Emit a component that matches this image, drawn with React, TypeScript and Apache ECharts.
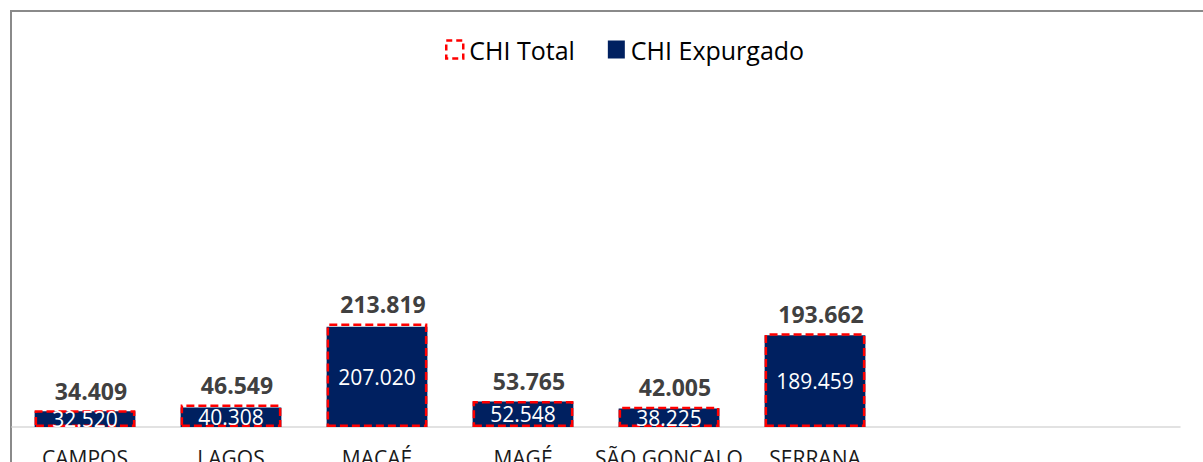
import React, { useEffect, useRef } from "react";
import * as echarts from "echarts";

const categories = ["CAMPOS", "LAGOS", "MACAÉ", "MAGÉ", "SÃO GONÇALO", "SERRANA", "", ""];
const chiTotal = [34409, 46549, 213819, 53765, 42005, 193662];
const chiExpurgado = [32520, 40308, 207020, 52548, 38225, 189459];

const fmt = (v: number) => String(Math.round(v)).replace(/\B(?=(\d{3})+(?!\d))/g, ".");

const FONT = "'Open Sans', 'Noto Sans', sans-serif";

export default function App() {
  const ref = useRef<HTMLDivElement>(null);
  useEffect(() => {
    if (!ref.current) return;
    const chart = echarts.init(ref.current, null, { renderer: "svg" });
    chart.setOption({
      animation: false,
      textStyle: { fontFamily: FONT },
      graphic: [
        {
          type: "rect",
          shape: { x: 11, y: 11, width: 1300, height: 600 },
          style: { fill: "none", stroke: "#8a8a8a", lineWidth: 2 },
          silent: true,
        },
      ],
      legend: {
        left: 440,
        top: 32,
        itemWidth: 17,
        itemHeight: 18,
        itemGap: 33,
        textStyle: { fontSize: 25, color: "#000", fontFamily: FONT, padding: [0, 0, 0, 1] },
        data: [
          {
            name: "CHI Total",
            icon: "rect",
            itemStyle: { color: "rgba(0,0,0,0)", borderColor: "#ff0000", borderWidth: 2.5, borderType: [6, 4] },
          },
          { name: "CHI Expurgado", icon: "rect", itemStyle: { color: "#002060" } },
        ],
      },
      grid: { left: 12, right: 23, top: 40, bottom: 35, containLabel: false, outerBoundsMode: "none" },
      xAxis: {
        type: "category",
        data: categories,
        axisLine: { show: true, lineStyle: { color: "#d9d9d9", width: 1.5 } },
        axisTick: { show: false },
        axisLabel: { fontSize: 21, color: "#1a1a1a", margin: 20, interval: 0, fontFamily: FONT },
      },
      yAxis: {
        type: "value",
        min: 0,
        max: 800000,
        show: false,
        splitLine: { show: false },
      },
      series: [
        {
          name: "CHI Expurgado",
          type: "bar",
          data: chiExpurgado,
          barWidth: "69%",
          barGap: "-100%",
          itemStyle: { color: "#002060" },
          label: {
            show: true,
            position: "inside",
            color: "#ffffff",
            fontSize: 21,
            fontFamily: FONT,
            formatter: (p: any) => fmt(p.value),
          },
        },
        {
          name: "CHI Total",
          type: "bar",
          data: chiTotal,
          barWidth: "69%",
          barGap: "-100%",
          itemStyle: {
            color: "rgba(0,0,0,0)",
            borderColor: "#ff0000",
            borderWidth: 2.5,
            borderType: [8, 4],
          },
          label: {
            show: true,
            position: "top",
            distance: 8,
            color: "#404040",
            fontSize: 23,
            fontWeight: "bold",
            fontFamily: FONT,
            offset: [6, 0],
            formatter: (p: any) => fmt(p.value),
          },
        },
      ],
    });
    return () => chart.dispose();
  }, []);
  return (
    <div
      ref={ref}
      style={{ position: "absolute", left: 0, top: 0, width: 1203, height: 462, background: "#fff" }}
    />
  );
}
